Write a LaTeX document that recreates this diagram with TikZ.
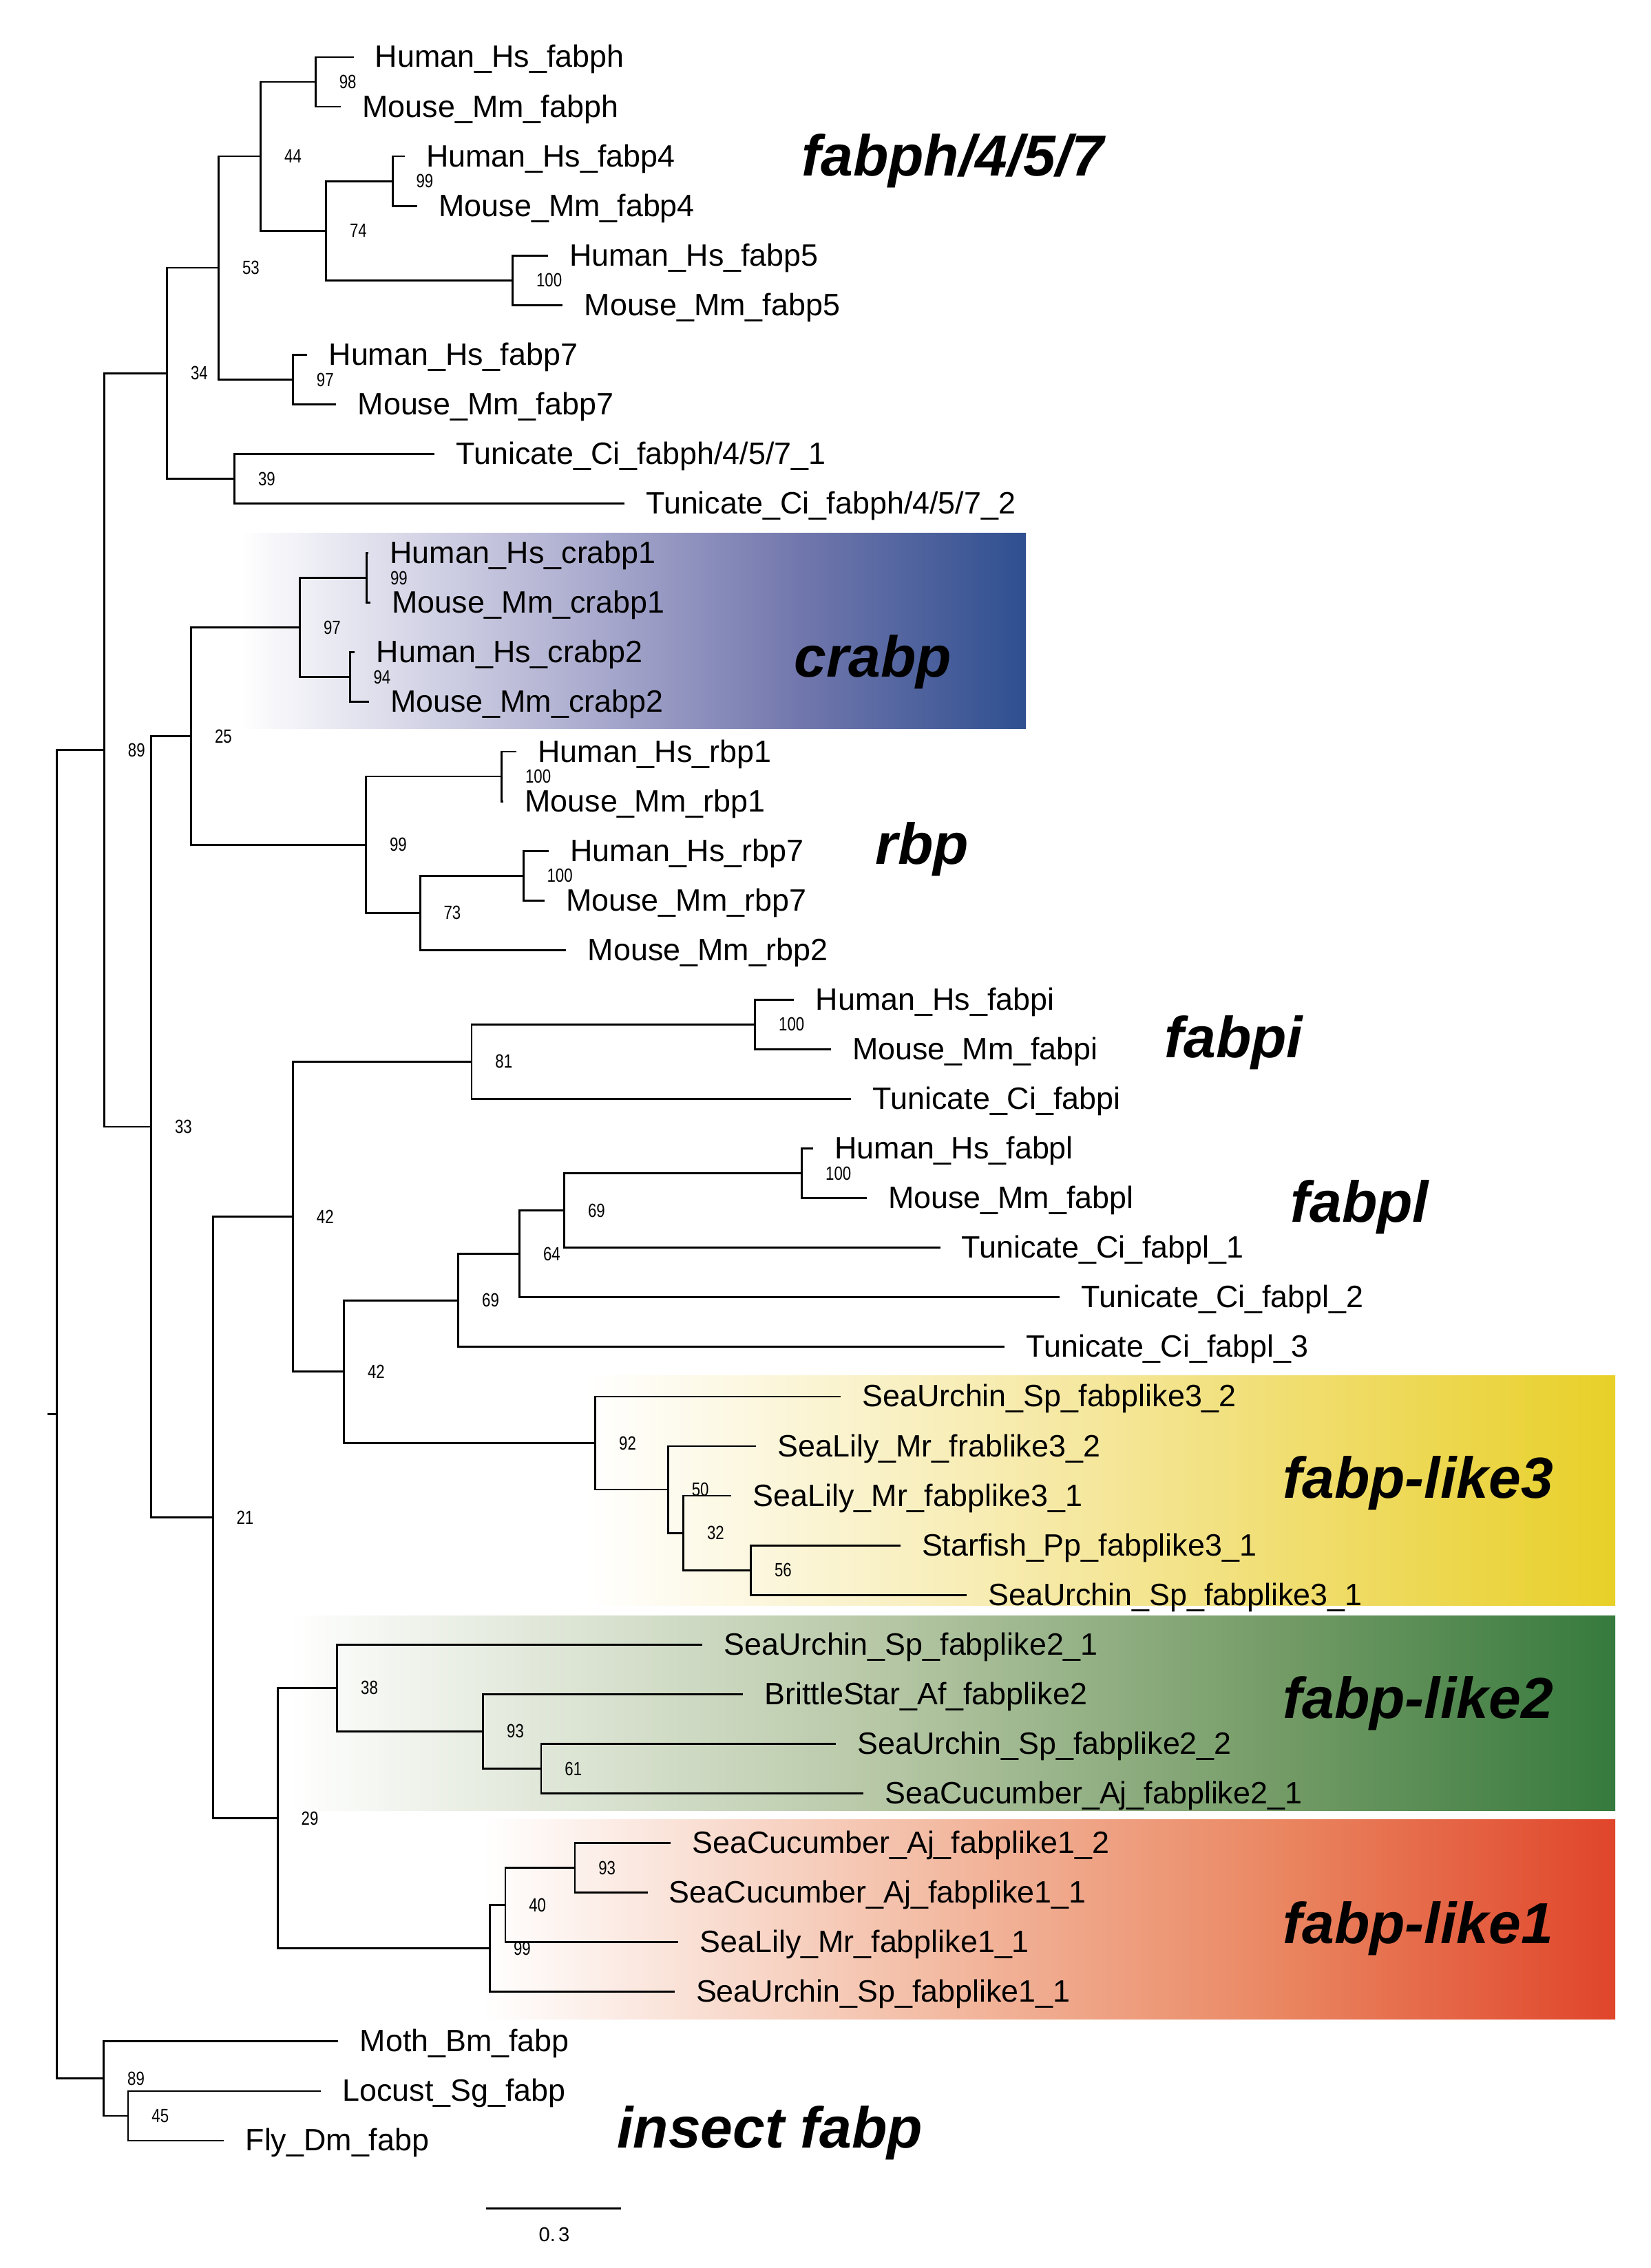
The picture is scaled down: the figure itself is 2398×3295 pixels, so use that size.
\documentclass[tikz,border=0pt]{standalone}
\usepackage{fontspec}
\setmainfont{Liberation Sans}
\usepackage{graphicx}
\newcommand\leaffont{\fontsize{12.75pt}{15pt}\selectfont}
\newcommand\bsfont{\fontsize{7.9pt}{9pt}\selectfont}
\newcommand\cladefont{\fontsize{23.9pt}{28pt}\selectfont\bfseries\itshape}
\newcommand\scalefont{\fontsize{8.3pt}{10pt}\selectfont}
\newcommand\bsl[1]{\scalebox{0.8}[1]{#1}}
\definecolor{bA}{HTML}{B4B4D4}
\definecolor{bB}{HTML}{7479AE}
\definecolor{bC}{HTML}{2F4F90}
\definecolor{yA}{HTML}{F6E9A6}
\definecolor{yB}{HTML}{EFDB62}
\definecolor{yC}{HTML}{E8D028}
\definecolor{gA}{HTML}{B6C7A5}
\definecolor{gB}{HTML}{739B66}
\definecolor{gC}{HTML}{367A3D}
\definecolor{rA}{HTML}{F3BBA3}
\definecolor{rB}{HTML}{EA8762}
\definecolor{rC}{HTML}{E0452A}
\begin{document}
\begin{tikzpicture}[x=0.01cm,y=-0.01cm,line width=0.8pt,
  leaf/.style={anchor=base west,inner sep=0pt,font=\leaffont},
  bs/.style={anchor=west,inner sep=0pt,font=\bsfont},
  clade/.style={anchor=base west,inner sep=0pt,font=\cladefont}]
\useasboundingbox (0,0) rectangle (2398,3295);
\fill[white] (0,0) rectangle (2398,3295);
% clade boxes
\shade[left color=white,right color=bA] (348,775) rectangle (806,1058);
\shade[left color=bA,right color=bB] (805,775) rectangle (1149,1058);
\shade[left color=bB,right color=bC] (1148,775) rectangle (1490,1058);
\shade[left color=white,right color=yA] (850,1998) rectangle (1524,2332);
\shade[left color=yA,right color=yB] (1523,1998) rectangle (1973,2332);
\shade[left color=yB,right color=yC] (1972,1998) rectangle (2346,2332);
\shade[left color=white,right color=gA] (418,2347) rectangle (1287,2630);
\shade[left color=gA,right color=gB] (1286,2347) rectangle (1865,2630);
\shade[left color=gB,right color=gC] (1864,2347) rectangle (2346,2630);
\shade[left color=white,right color=rA] (702,2643) rectangle (1361,2933);
\shade[left color=rA,right color=rB] (1360,2643) rectangle (1854,2933);
\shade[left color=rB,right color=rC] (1853,2643) rectangle (2346,2933);
% internal nodes
\coordinate (R) at (82.7,2054.75);
\coordinate (S) at (68.5,2054.75);
\coordinate (n89a) at (151.5,1089.65);
\coordinate (n34) at (242.6,542.3);
\coordinate (n53) at (317.6,389.1);
\coordinate (n44) at (378.8,227.1);
\coordinate (n98) at (458.4,119.05);
\coordinate (n74) at (473.7,335.25);
\coordinate (n99a) at (570.1,263.15);
\coordinate (n100a) at (744.6,407.35);
\coordinate (n97a) at (425.5,551.45);
\coordinate (n39) at (340.6,695.6);
\coordinate (n33) at (219.6,1637);
\coordinate (n25) at (277.6,1069.45);
\coordinate (n97b) at (435.7,911.8);
\coordinate (n99c) at (532.7,839.75);
\coordinate (n94) at (508.2,983.85);
\coordinate (n99b) at (531.6,1227.1);
\coordinate (n100b) at (728.6,1128.05);
\coordinate (n73) at (610.2,1326.2);
\coordinate (n100c) at (760.2,1272.15);
\coordinate (n21) at (309.2,2204.55);
\coordinate (n42a) at (425.5,1767.6);
\coordinate (n81) at (685,1542.4);
\coordinate (n100d) at (1096.7,1488.35);
\coordinate (n42b) at (499.7,1992.8);
\coordinate (n69a) at (665.8,1889.2);
\coordinate (n64) at (754.6,1821.7);
\coordinate (n69b) at (819.6,1758.65);
\coordinate (n100e) at (1164.8,1704.6);
\coordinate (n92) at (864.8,2096.45);
\coordinate (n50) at (970.4,2164.0);
\coordinate (n32) at (992.6,2227.1);
\coordinate (n56) at (1090.6,2281.15);
\coordinate (n29) at (403.3,2641.5);
\coordinate (n38) at (489.8,2452.3);
\coordinate (n93a) at (701.8,2515.4);
\coordinate (n61) at (786,2569.45);
\coordinate (n99d) at (711.7,2830.65);
\coordinate (n40) at (733.9,2767.6);
\coordinate (n93b) at (834.9,2713.55);
\coordinate (n89b) at (150.8,3019.85);
\coordinate (n45) at (186,3073.9);
% leaf tips
\coordinate (L1) at (513.5,83);
\coordinate (L2) at (495.2,155.1);
\coordinate (L3) at (587.7,227.1);
\coordinate (L4) at (606.1,299.2);
\coordinate (L5) at (795.9,371.3);
\coordinate (L6) at (817.3,443.4);
\coordinate (L7) at (446.2,515.4);
\coordinate (L8) at (488.3,587.5);
\coordinate (L9) at (631.4,659.6);
\coordinate (L10) at (906.9,731.6);
\coordinate (L11) at (535,803.7);
\coordinate (L12) at (538,875.8);
\coordinate (L13) at (515.3,947.8);
\coordinate (L14) at (535.7,1019.9);
\coordinate (L15) at (750,1092);
\coordinate (L16) at (731,1164.1);
\coordinate (L17) at (797,1236.1);
\coordinate (L18) at (790.8,1308.2);
\coordinate (L19) at (822.4,1380.3);
\coordinate (L20) at (1153.4,1452.3);
\coordinate (L21) at (1206.8,1524.4);
\coordinate (L22) at (1236.3,1596.5);
\coordinate (L23) at (1181,1668.6);
\coordinate (L24) at (1258.6,1740.6);
\coordinate (L25) at (1365.5,1812.7);
\coordinate (L26) at (1539.4,1884.8);
\coordinate (L27) at (1459.2,1956.8);
\coordinate (L28) at (1221.1,2028.9);
\coordinate (L29) at (1098.2,2101);
\coordinate (L30) at (1062.3,2173);
\coordinate (L31) at (1307.6,2245.1);
\coordinate (L32) at (1403.9,2317.2);
\coordinate (L33) at (1020.1,2389.3);
\coordinate (L34) at (1079,2461.3);
\coordinate (L35) at (1214,2533.4);
\coordinate (L36) at (1254.1,2605.5);
\coordinate (L37) at (974.2,2677.5);
\coordinate (L38) at (940.5,2749.6);
\coordinate (L39) at (985,2821.7);
\coordinate (L40) at (979.6,2893.7);
\coordinate (L41) at (491.3,2965.8);
\coordinate (L42) at (466,3037.9);
\coordinate (L43) at (325.2,3109.9);
% branches
\draw (S) -- (R);
\foreach \p/\c in {R/n89a,R/n89b,n89a/n34,n89a/n33,n34/n53,n34/n39,n53/n44,n53/n97a,
  n44/n98,n44/n74,n98/L1,n98/L2,n74/n99a,n74/n100a,n99a/L3,n99a/L4,n100a/L5,n100a/L6,
  n97a/L7,n97a/L8,n39/L9,n39/L10,n33/n25,n33/n21,n25/n97b,n25/n99b,n97b/n99c,n97b/n94,
  n99c/L11,n99c/L12,n94/L13,n94/L14,n99b/n100b,n99b/n73,n100b/L15,n100b/L16,
  n73/n100c,n73/L19,n100c/L17,n100c/L18,n21/n42a,n21/n29,n42a/n81,n42a/n42b,
  n81/n100d,n81/L22,n100d/L20,n100d/L21,n42b/n69a,n42b/n92,n69a/n64,n69a/L27,
  n64/n69b,n64/L26,n69b/n100e,n69b/L25,n100e/L23,n100e/L24,n92/L28,n92/n50,
  n50/L29,n50/n32,n32/L30,n32/n56,n56/L31,n56/L32,n29/n38,n29/n99d,n38/L33,n38/n93a,
  n93a/L34,n93a/n61,n61/L35,n61/L36,n99d/n40,n99d/L40,n40/n93b,n40/L39,n93b/L37,n93b/L38,
  n89b/L41,n89b/n45,n45/L42,n45/L43}
  \draw (\p) |- (\c);
% bootstrap values
\foreach \n/\t in {n89a/89,n34/34,n53/53,n44/44,n98/98,n74/74,n99a/99,n100a/100,n97a/97,
  n39/39,n33/33,n25/25,n97b/97,n99c/99,n94/94,n99b/99,n100b/100,n73/73,n100c/100,
  n21/21,n42a/42,n81/81,n100d/100,n42b/42,n69a/69,n64/64,n69b/69,n100e/100,n92/92,
  n50/50,n32/32,n56/56,n29/29,n38/38,n93a/93,n61/61,n99d/99,n40/40,n93b/93,n89b/89,n45/45}
  \node[bs,xshift=0.33cm] (b\n) at (\n) {\bsl{\t}};
% leaf labels
\foreach \c/\t in {L1/Human\_Hs\_fabph,L2/Mouse\_Mm\_fabph,L3/Human\_Hs\_fabp4,
  L4/Mouse\_Mm\_fabp4,L5/Human\_Hs\_fabp5,L6/Mouse\_Mm\_fabp5,L7/Human\_Hs\_fabp7,
  L8/Mouse\_Mm\_fabp7,L9/Tunicate\_Ci\_fabph\slash4\slash5\slash7\_1,
  L10/Tunicate\_Ci\_fabph\slash4\slash5\slash7\_2,L11/Human\_Hs\_crabp1,
  L12/Mouse\_Mm\_crabp1,L13/Human\_Hs\_crabp2,L14/Mouse\_Mm\_crabp2,
  L15/Human\_Hs\_rbp1,L16/Mouse\_Mm\_rbp1,L17/Human\_Hs\_rbp7,L18/Mouse\_Mm\_rbp7,
  L19/Mouse\_Mm\_rbp2,L20/Human\_Hs\_fabpi,L21/Mouse\_Mm\_fabpi,L22/Tunicate\_Ci\_fabpi,
  L23/Human\_Hs\_fabpl,L24/Mouse\_Mm\_fabpl,L25/Tunicate\_Ci\_fabpl\_1,
  L26/Tunicate\_Ci\_fabpl\_2,L27/Tunicate\_Ci\_fabpl\_3,L28/SeaUrchin\_Sp\_fabplike3\_2,
  L29/SeaLily\_Mr\_frablike3\_2,L30/SeaLily\_Mr\_fabplike3\_1,
  L31/Starfish\_Pp\_fabplike3\_1,L32/SeaUrchin\_Sp\_fabplike3\_1,
  L33/SeaUrchin\_Sp\_fabplike2\_1,L34/BrittleStar\_Af\_fabplike2,
  L35/SeaUrchin\_Sp\_fabplike2\_2,L36/SeaCucumber\_Aj\_fabplike2\_1,
  L37/SeaCucumber\_Aj\_fabplike1\_2,L38/SeaCucumber\_Aj\_fabplike1\_1,
  L39/SeaLily\_Mr\_fabplike1\_1,L40/SeaUrchin\_Sp\_fabplike1\_1,
  L41/Moth\_Bm\_fabp,L42/Locust\_Sg\_fabp,L43/Fly\_Dm\_fabp}
  \node[leaf,xshift=0.3cm,yshift=-0.15cm] (t\c) at (\c) {\t};
% clade titles
\node[clade] (c1) at (1163,256) {fabph/4/5/7};
\node[clade] (c2) at (1152,983) {crabp};
\node[clade] (c3) at (1270,1255) {rbp};
\node[clade] (c4) at (1690,1536) {fabpi};
\node[clade] (c5) at (1873,1775) {fabpl};
\node[clade] (c6) at (1862,2176) {fabp-like3};
\node[clade] (c7) at (1862,2496) {fabp-like2};
\node[clade] (c8) at (1862,2823) {fabp-like1};
\node[clade] (c9) at (895,3120) {insect fabp};
% scale bar
\coordinate (sb1) at (706.4,3208.2);
\coordinate (sb2) at (901.5,3208.2);
\draw (sb1) -- (sb2);
\node[font=\scalefont,inner sep=0pt] (sbl) at (805,3246) {0.\kern1.2pt3};
\end{tikzpicture}
\end{document}
